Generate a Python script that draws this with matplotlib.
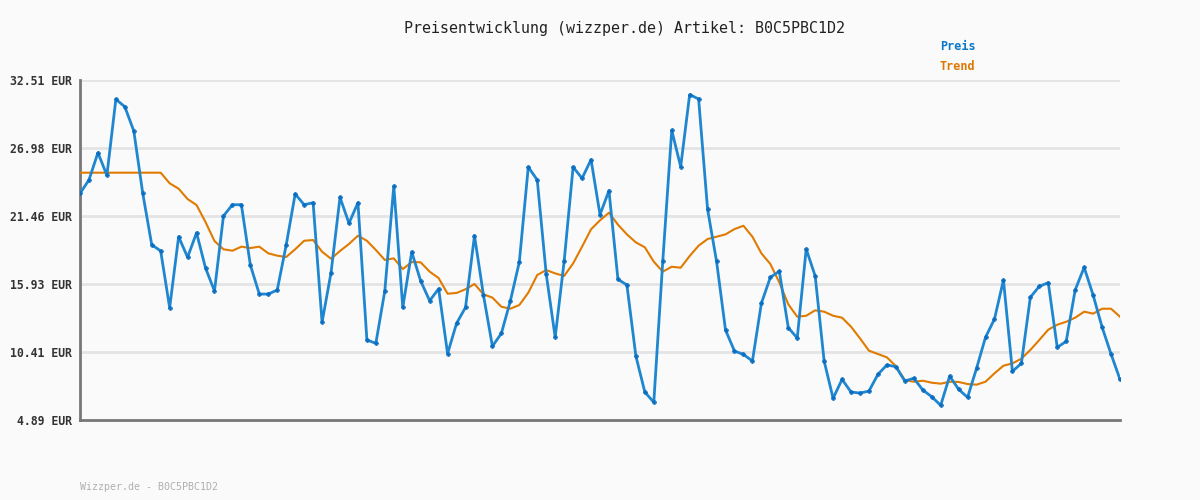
import matplotlib
matplotlib.use("Agg")
import matplotlib.pyplot as plt

# price history, one value per observation (EUR)
preis = [23.30, 24.39, 26.60, 24.77, 30.94, 30.34, 28.37, 23.30, 19.13, 18.62,
         14.01, 19.78, 18.11, 20.10, 17.24, 15.37, 21.46, 22.38, 22.38, 17.48,
         15.12, 15.12, 15.45, 19.11, 23.25, 22.38, 22.54, 12.83, 16.86, 22.98,
         20.87, 22.54, 11.39, 11.12, 15.39, 23.90, 14.04, 18.54, 16.18, 14.58,
         15.55, 10.28, 12.74, 14.04, 19.86, 15.04, 10.88, 11.93, 14.56, 17.72,
         25.44, 24.39, 16.75, 11.61, 17.78, 25.44, 24.52, 26.04, 21.57, 23.52,
         16.32, 15.86, 10.09, 7.16, 6.33, 17.78, 28.42, 25.47, 31.32, 30.97,
         22.00, 17.78, 12.20, 10.49, 10.22, 9.68, 14.37, 16.48, 16.97, 12.39,
         11.55, 18.78, 16.59, 9.68, 6.65, 8.19, 7.16, 7.08, 7.24, 8.60,
         9.36, 9.22, 8.06, 8.28, 7.33, 6.78, 6.08, 8.46, 7.38, 6.73,
         9.09, 11.61, 13.09, 16.26, 8.84, 9.49, 14.86, 15.75, 16.04, 10.79,
         11.28, 15.45, 17.29, 15.04, 12.44, 10.25, 8.19]

trend = [24.98, 24.98, 24.98, 24.98, 24.98, 24.98, 24.98, 24.98, 24.98, 24.98,
         24.12, 23.68, 22.84, 22.35, 20.97, 19.43, 18.76, 18.64, 18.97, 18.86,
         18.97, 18.43, 18.24, 18.13, 18.76, 19.45, 19.51, 18.56, 17.99, 18.62,
         19.19, 19.86, 19.45, 18.70, 17.89, 18.02, 17.15, 17.72, 17.70, 16.94,
         16.42, 15.15, 15.21, 15.51, 15.94, 15.10, 14.83, 14.09, 13.93, 14.23,
         15.23, 16.67, 17.07, 16.80, 16.59, 17.61, 18.97, 20.38, 21.11, 21.73,
         20.76, 19.97, 19.32, 18.92, 17.75, 16.94, 17.34, 17.26, 18.21, 19.05,
         19.59, 19.78, 19.97, 20.40, 20.67, 19.78, 18.43, 17.56, 16.07, 14.29,
         13.28, 13.36, 13.80, 13.69, 13.36, 13.20, 12.47, 11.52, 10.52, 10.25,
         9.98, 9.27, 8.14, 8.00, 8.08, 7.92, 7.84, 8.00, 7.98, 7.81,
         7.76, 8.00, 8.68, 9.30, 9.49, 9.87, 10.58, 11.39, 12.23, 12.63,
         12.87, 13.20, 13.69, 13.53, 13.93, 13.93, 13.28]

y_ticks = [4.89, 10.41, 15.93, 21.46, 26.98, 32.51]
artikel = "B0C5PBC1D2"

bg = "#fafafa"
mono = "DejaVu Sans Mono"

fig = plt.figure(figsize=(12, 5), dpi=100, facecolor=bg)
ax = fig.add_axes([80 / 1200, 80 / 500, 1040 / 1200, 340 / 500], facecolor=bg)

x = list(range(len(preis)))
ax.plot(x, trend, color="#e07b00", lw=1.5, zorder=3)
ax.plot(x, preis, color="#1f86d0", lw=2.0, zorder=4,
        marker="P", markersize=3.2, markerfacecolor="#0a6cc0",
        markeredgecolor="#0a6cc0", markeredgewidth=0.3)

ax.set_xlim(0, len(preis) - 1)
ax.set_ylim(y_ticks[0], y_ticks[-1])
for v in y_ticks[1:]:
    ax.axhline(v, color="#e4e4e4", lw=2.0, zorder=1)

ax.set_xticks([])
ax.set_yticks(y_ticks)
ax.set_yticklabels([f"{v:.2f} EUR" for v in y_ticks],
                   family=mono, fontsize=8.3, fontweight="bold", color="#333333")
ax.tick_params(axis="y", length=0, pad=6)
for s in ("top", "right"):
    ax.spines[s].set_visible(False)
for s in ("left", "bottom"):
    ax.spines[s].set_color("#777777")
    ax.spines[s].set_linewidth(2)

fig.text(624 / 1200, 1 - 28 / 500, f"Preisentwicklung (wizzper.de) Artikel: {artikel}",
         ha="center", va="center", family=mono, fontsize=10.8, color="#222222")
fig.text(940 / 1200, 1 - 47 / 500, "Preis", ha="left", va="center",
         family=mono, fontsize=8.5, fontweight="bold", color="#0a77c8")
fig.text(940 / 1200, 1 - 67 / 500, "Trend", ha="left", va="center",
         family=mono, fontsize=8.5, fontweight="bold", color="#dd7700")
fig.text(80 / 1200, 1 - 487 / 500, f"Wizzper.de - {artikel}", ha="left", va="center",
         family=mono, fontsize=7.2, color="#b0b0b0")

fig.savefig("out.png", dpi=100, facecolor=bg)
